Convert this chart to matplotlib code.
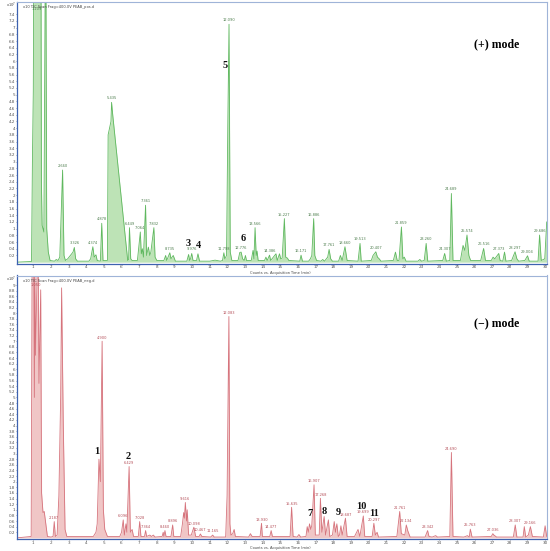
import matplotlib.pyplot as plt
import numpy as np

# (+) mode TIC trace (time in min, counts x10^7)
pos_time = [
    0.06, 0.90, 0.95, 0.98, 1.00, 1.02, 1.44, 1.46, 1.50, 1.60, 1.67, 1.72, 1.76, 1.85, 1.95,
    2.20, 2.30, 2.40, 2.50, 2.660, 2.74, 2.82, 2.95, 3.10, 3.25, 3.326, 3.40, 3.50,
    4.15, 4.25, 4.374, 4.45, 4.55, 4.62, 4.80, 4.878, 4.95,
    5.20, 5.24, 5.40, 5.435, 5.50, 6.35, 6.40, 6.449, 6.52, 6.60,
    6.90, 7.064, 7.12, 7.18, 7.24, 7.361, 7.42, 7.52, 7.60, 7.66, 7.832, 7.90, 8.00,
    8.40, 8.50, 8.56, 8.735, 8.80, 8.86, 8.93, 9.05,
    9.70, 9.80, 9.86, 9.91, 9.976, 10.05, 10.25, 10.33, 10.42,
    11.00, 11.30, 11.60, 11.72, 11.798, 11.85, 11.95, 12.02, 12.090, 12.16, 12.25,
    12.60, 12.70, 12.776, 12.86, 12.95, 13.02, 13.08, 13.20,
    13.35, 13.45, 13.50, 13.566, 13.63, 13.68, 13.74,
    14.10, 14.18, 14.25, 14.386, 14.45, 14.75, 14.82, 14.95, 15.02, 15.10, 15.227, 15.30, 15.40, 15.48,
    16.10, 16.171, 16.25, 16.60, 16.70, 16.78, 16.886, 16.95, 17.05,
    17.30, 17.40, 17.50, 17.68, 17.761, 17.85, 17.95,
    18.30, 18.40, 18.50, 18.660, 18.78, 19.40, 19.513, 19.58,
    20.15, 20.25, 20.407, 20.50, 20.60, 20.70,
    21.40, 21.52, 21.62, 21.72, 21.859, 21.94, 22.02, 22.12,
    22.80, 22.90, 23.00, 23.15, 23.260, 23.35,
    24.20, 24.307, 24.40, 24.60, 24.689, 24.78,
    25.20, 25.35, 25.45, 25.574, 25.68, 25.78,
    26.35, 26.516, 26.62, 26.95, 27.05, 27.15, 27.373, 27.45,
    27.60, 27.70, 27.78, 28.10, 28.297, 28.40, 28.50,
    28.85, 29.004, 29.10, 29.60, 29.686, 29.78, 29.98, 30.09,
]
pos_signal = [
    0.0, 0.02, 3.0, 4.4, 5.1, 8.0, 8.0, 2.4, 1.1, 0.9, 8.0, 8.0, 1.0, 0.3, 0.05,
    0.03, 0.08, 0.05, 0.15, 2.75, 0.2, 0.05, 0.1, 0.2, 0.3, 0.44, 0.1, 0.03,
    0.03, 0.1, 0.46, 0.15, 0.22, 0.05, 0.03, 1.16, 0.05,
    0.05, 3.8, 4.2, 4.77, 4.4, 0.05, 0.08, 1.03, 0.1, 0.05,
    0.05, 0.9, 0.25, 0.4, 0.15, 1.7, 0.2, 0.45, 0.2, 0.3, 1.03, 0.15, 0.05,
    0.05, 0.2, 0.05, 0.28, 0.1, 0.15, 0.2, 0.03,
    0.03, 0.23, 0.05, 0.1, 0.26, 0.05, 0.05, 0.25, 0.03,
    0.03, 0.06, 0.03, 0.05, 0.28, 0.1, 0.2, 4.04, 7.1, 0.3, 0.05,
    0.05, 0.29, 0.3, 0.1, 0.05, 0.2, 0.05, 0.05,
    0.05, 0.35, 0.1, 1.03, 0.2, 0.33, 0.05,
    0.05, 0.15, 0.05, 0.21, 0.05, 0.25, 0.05, 0.25, 0.1, 0.12, 1.30, 0.15, 0.12, 0.05,
    0.03, 0.21, 0.03, 0.03, 0.1, 0.2, 1.30, 0.2, 0.05,
    0.03, 0.08, 0.03, 0.15, 0.38, 0.1, 0.03,
    0.03, 0.2, 0.05, 0.46, 0.05, 0.03, 0.56, 0.03,
    0.05, 0.2, 0.31, 0.15, 0.1, 0.03,
    0.05, 0.3, 0.05, 0.05, 1.05, 0.1, 0.15, 0.03,
    0.03, 0.08, 0.03, 0.05, 0.56, 0.03,
    0.05, 0.26, 0.03, 0.05, 2.05, 0.05,
    0.05, 0.5, 0.35, 0.81, 0.2, 0.05,
    0.05, 0.41, 0.05, 0.05, 0.15, 0.1, 0.26, 0.05,
    0.03, 0.3, 0.03, 0.05, 0.31, 0.1, 0.03,
    0.05, 0.19, 0.03, 0.03, 0.81, 0.05, 0.1, 1.2,
]
pos_peak_labels = [
    "2.660", "3.326", "4.374", "4.878", "5.435", "6.449", "7.064", "7.361", "7.832",
    "8.735", "9.976", "11.798", "12.090", "12.776", "13.566", "14.386", "15.227",
    "16.171", "16.886", "17.761", "18.660", "19.513", "20.407", "21.859", "23.260",
    "24.307", "24.689", "25.574", "26.516", "27.373", "28.297", "29.004", "29.686",
]

# (-) mode TIC trace
neg_time = [
    0.06, 0.88, 0.93, 1.03, 1.06, 1.09, 1.13, 1.22, 1.28, 1.32, 1.42, 1.47, 1.55, 1.62, 1.80,
    2.00, 2.12, 2.187, 2.25, 2.35, 2.45, 2.55, 2.604, 2.70, 2.80, 2.90,
    4.40, 4.55, 4.62, 4.72, 4.80, 4.900, 4.97, 5.05, 5.20,
    5.90, 6.00, 6.096, 6.16, 6.25, 6.30, 6.429, 6.50, 6.60, 6.68,
    6.95, 7.028, 7.10, 7.30, 7.364, 7.42, 7.60, 7.70, 7.80, 7.90,
    8.30, 8.36, 8.40, 8.460, 8.52, 8.80, 8.896, 8.96,
    9.35, 9.45, 9.52, 9.56, 9.616, 9.68, 9.72, 9.80, 9.95, 10.098, 10.20,
    10.40, 10.467, 10.55, 11.05, 11.165, 11.25,
    11.90, 11.98, 12.083, 12.14, 12.20, 12.30, 12.38, 12.45,
    13.20, 13.30, 13.40, 13.85, 13.930, 13.98, 14.40, 14.477, 14.55,
    15.55, 15.635, 15.72, 15.95, 16.05, 16.15,
    16.45, 16.52, 16.58, 16.65, 16.72, 16.78, 16.907, 16.98, 17.20, 17.268, 17.35,
    17.48, 17.56, 17.72, 17.80, 17.95, 18.05, 18.12, 18.20, 18.28, 18.35, 18.43, 18.50,
    18.687, 18.78, 19.20, 19.40, 19.50, 19.699, 19.78,
    20.20, 20.297, 20.38, 20.48, 20.56,
    21.60, 21.761, 21.85, 22.05, 22.134, 22.22, 22.35,
    23.20, 23.342, 23.42, 23.60, 23.80, 23.90,
    24.60, 24.690, 24.78, 25.40, 25.60, 25.70, 25.763, 25.86,
    26.95, 27.036, 27.10, 27.25, 28.20, 28.307, 28.40,
    28.75, 28.82, 28.90, 29.05, 29.166, 29.28, 29.90, 30.00, 30.09,
]
neg_signal = [
    0.0, 0.05, 9.6, 9.6, 5.0, 9.6, 6.5, 9.6, 9.6, 5.5, 8.83, 1.6, 0.9, 0.94, 0.05,
    0.03, 0.05, 0.58, 0.05, 0.1, 1.5, 5.0, 8.9, 4.0, 0.3, 0.05,
    0.05, 0.2, 0.5, 2.80, 2.0, 7.0, 1.0, 0.3, 0.05,
    0.05, 0.2, 0.64, 0.1, 0.5, 0.2, 2.54, 0.2, 0.3, 0.05,
    0.05, 0.58, 0.05, 0.05, 0.26, 0.05, 0.1, 0.05, 0.1, 0.03,
    0.05, 0.2, 0.05, 0.26, 0.05, 0.05, 0.46, 0.05,
    0.05, 0.5, 0.9, 0.7, 1.26, 0.6, 1.0, 0.1, 0.1, 0.38, 0.05,
    0.05, 0.14, 0.05, 0.03, 0.10, 0.03,
    0.03, 1.5, 7.88, 0.5, 0.1, 0.15, 0.3, 0.05,
    0.03, 0.15, 0.05, 0.05, 0.52, 0.05, 0.05, 0.26, 0.05,
    0.05, 1.09, 0.05, 0.03, 0.12, 0.03,
    0.05, 0.4, 0.2, 0.5, 0.3, 0.45, 1.89, 0.1, 0.1, 1.41, 0.2,
    0.76, 0.1, 0.64, 0.05, 0.1, 0.58, 0.2, 0.5, 0.05, 0.1, 0.43, 0.1,
    0.70, 0.05, 0.05, 0.3, 0.05, 0.78, 0.05,
    0.05, 0.52, 0.1, 0.2, 0.03,
    0.05, 0.94, 0.15, 0.1, 0.46, 0.25, 0.03,
    0.03, 0.26, 0.05, 0.03, 0.08, 0.03,
    0.05, 3.04, 0.05, 0.03, 0.08, 0.03, 0.31, 0.03,
    0.05, 0.15, 0.1, 0.03, 0.03, 0.46, 0.03,
    0.03, 0.40, 0.03, 0.1, 0.40, 0.05, 0.03, 0.43, 0.05,
]
neg_peak_labels = [
    "2.187", "4.900", "6.096", "6.429", "7.028", "7.364", "8.460", "8.896", "9.616",
    "10.098", "10.467", "11.165", "12.083", "13.930", "14.477", "15.635", "16.907",
    "17.268", "18.687", "19.699", "20.297", "21.761", "22.134", "23.342", "24.690",
    "25.763", "27.036", "28.307", "29.166",
]

# compound numbers (bold) next to the peaks
pos_compounds = ["3", "4", "5", "6"]
neg_compounds = ["1", "2", "7", "8", "9", "10", "11"]

W, H = 550, 551


def px_box(x0, y0, x1, y1):
    return [x0 / W, 1 - y1 / H, (x1 - x0) / W, (y1 - y0) / H]


def draw_panel(fig, box, time, signal, labels, fill, edge, text_col, ymax, yticks_max,
               title, compounds, comp_xy, mode_text, mode_y, top_labels, xlabel_y):
    ax = fig.add_axes(px_box(*box))
    ax.fill_between(time, signal, color=fill, lw=0)
    ax.plot(time, signal, color=edge, lw=0.6)
    ax.set_xlim(0.06, 30.09)
    ax.set_ylim(-0.04, ymax)

    ax.set_xticks(np.arange(1, 31))
    ax.set_xticklabels([str(i) for i in range(1, 31)])
    yt = np.round(np.arange(0.2, yticks_max + 0.01, 0.2), 1)
    ax.set_yticks(yt)
    ax.set_yticklabels([f"{v:g}" for v in yt])
    ax.tick_params(labelsize=3, length=0.8, width=0.4, pad=0.4, colors="#555555")
    for side in ("left", "bottom"):
        ax.spines[side].set_color("#3d62b0")
        ax.spines[side].set_linewidth(0.9)
    for side in ("top", "right"):
        ax.spines[side].set_color("#9fb4d8")
        ax.spines[side].set_linewidth(0.8)

    for lab in labels:
        rt = float(lab)
        h = np.interp(rt, time, signal)
        ax.text(rt, min(h, ymax - 0.35) + 0.06, lab, fontsize=2.6, color=text_col,
                ha="center", va="bottom")
    for rt, y, lab in top_labels:
        ax.text(rt, y, lab, fontsize=2.6, color=text_col, ha="center", va="center")

    for lab, (x, y) in zip(compounds, comp_xy):
        ax.text(x, y, lab, fontsize=7.5, fontweight="bold", family="Liberation Serif",
                ha="center", va="center", color="#111111")

    ax.text(0.905, mode_y, mode_text, transform=ax.transAxes, fontsize=8.5,
            fontweight="bold", family="Liberation Serif", ha="center", va="center")
    ax.text(0.012, 0.988, title, transform=ax.transAxes, fontsize=2.6, color="#444444",
            ha="left", va="top")
    fig.text(6 / W, 1 - (box[1] + 3.5) / H, "x10$^7$", fontsize=2.6, color="#444444",
             ha="left", va="center")
    fig.text(280 / W, 1 - xlabel_y / H, "Counts vs. Acquisition Time (min)", fontsize=2.6,
             color="#444444", ha="center", va="center")
    return ax


fig = plt.figure(figsize=(W / 100, H / 100), dpi=100)

draw_panel(fig, (16.7, 1.5, 546.7, 263.5), pos_time, pos_signal, pos_peak_labels,
           "#bde3b6", "#5fb85f", "#4d7d4d", 7.78, 7.4,
           "x10 TIC Scan Frag=400.0V PEAB_pos.d", pos_compounds,
           [(9.80, 0.56), (10.35, 0.50), (11.86, 5.88), (12.90, 0.70)],
           "(+) mode", 0.835, [(1.22, 7.55, "1.209")], 272.8)

draw_panel(fig, (16.7, 275.5, 546.7, 539.0), neg_time, neg_signal, neg_peak_labels,
           "#f0c6c6", "#d6737c", "#b5505a", 9.34, 9.0,
           "x10 TIC Scan Frag=400.0V PEAB_neg.d", neg_compounds,
           [(4.59, 3.07), (6.38, 2.89), (16.68, 0.85), (17.49, 0.94), (18.28, 0.92),
            (19.57, 1.11), (20.30, 0.85)],
           "(\u2212) mode", 0.82, [(1.15, 9.0, "1.050")], 547.8)

fig.savefig("out.png", dpi=100)
